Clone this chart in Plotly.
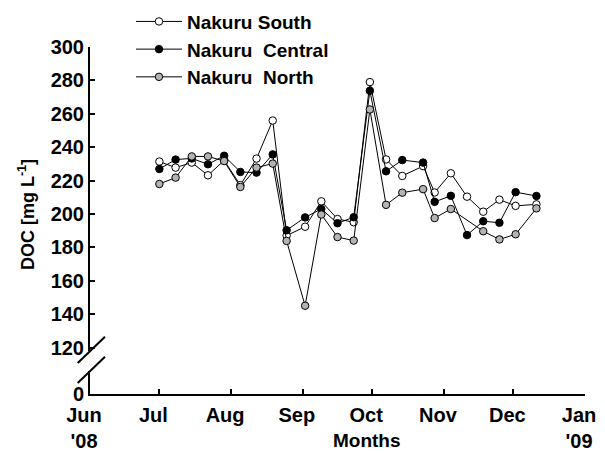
import plotly.graph_objects as go

# ---- data ----
dates = ["2008-07-01", "2008-07-08", "2008-07-15", "2008-07-22", "2008-07-29",
         "2008-08-05", "2008-08-12", "2008-08-19", "2008-08-25", "2008-09-02",
         "2008-09-09", "2008-09-16", "2008-09-23", "2008-09-30", "2008-10-07",
         "2008-10-14", "2008-10-23", "2008-10-28", "2008-11-04", "2008-11-11",
         "2008-11-18", "2008-11-25", "2008-12-02", "2008-12-11"]

south = [231.4, 227.8, 230.8, 223.2, 232.1, 217.3, 233.2, 256.0, 187.1, 192.4,
         207.6, 197.0, 195.1, 279.0, 232.7, 222.8, 228.7, 212.9, 224.4, 210.4,
         201.4, 208.6, 204.9, 205.8]
central = [227.0, 232.6, 233.3, 229.8, 234.9, 225.2, 224.8, 235.7, 190.3, 198.0,
           203.0, 194.5, 198.1, 273.8, 225.6, 232.3, 230.8, 207.3, 210.9, 187.4,
           195.7, 194.8, 213.1, 210.8]
north = [218.0, 221.8, 234.5, 234.5, 231.7, 216.2, 227.8, 230.2, 183.9, 145.1,
         199.7, 186.2, 184.1, 262.6, 205.5, 212.8, 214.9, 197.6, 203.0, None,
         189.7, 184.8, 187.9, 203.4]

series_names = ["Nakuru South", "Nakuru\u00a0 Central", "Nakuru\u00a0 North"]
series_fill = ["white", "black", "#b3b3b3"]

month_ticks = ["2008-06-01", "2008-07-01", "2008-08-01", "2008-09-01",
               "2008-10-01", "2008-11-01", "2008-12-01", "2009-01-01"]
month_labels = ["Jun<br>'08", "Jul", "Aug", "Sep", "Oct", "Nov", "Dec", "Jan<br>'09"]

y_upper_ticks = [120, 140, 160, 180, 200, 220, 240, 260, 280, 300]
y_lower_ticks = [0]

FONT = "Arial, Liberation Sans, sans-serif"
FS = 19
TFS = 20

fig = go.Figure()
for name, vals, fill in zip(series_names, [south, central, north], series_fill):
    fig.add_trace(go.Scatter(
        x=dates, y=vals, name=name, mode="lines+markers", connectgaps=True,
        line=dict(color="black", width=1),
        marker=dict(symbol="circle", size=7.5, color=fill,
                    line=dict(color="black", width=1)),
    ))

# empty trace so that the lower (broken) y-axis segment gets its own subplot
fig.add_trace(go.Scatter(x=[], y=[], xaxis="x", yaxis="y2", showlegend=False,
                         hoverinfo="skip"))

axis_common = dict(showline=True, linecolor="black", linewidth=2,
                   ticks="inside", ticklen=5, tickwidth=2, tickcolor="black",
                   showgrid=False, zeroline=False, automargin=False,
                   tickfont=dict(family=FONT, size=TFS, color="black", weight="bold"))

fig.update_layout(
    width=605, height=453,
    margin=dict(l=90, r=20, t=47, b=59, autoexpand=False),
    paper_bgcolor="white", plot_bgcolor="white",
    font=dict(family=FONT, size=FS, color="black", weight="bold"),
    xaxis=dict(type="date", range=["2008-06-01", "2009-01-01"],
               tickvals=month_ticks, ticktext=month_labels,
               anchor="y2", ticklabelshift=-6, ticklabelstandoff=2,
               **axis_common),
    yaxis=dict(domain=[0.1239, 1], range=[118, 300], tickvals=y_upper_ticks,
               anchor="x", **axis_common),
    yaxis2=dict(domain=[0, 0.0663], range=[0, 10], tickvals=y_lower_ticks,
                anchor="x", **axis_common),
    legend=dict(x=0.0828, y=1.128, xanchor="left", yanchor="top",
                bgcolor="rgba(0,0,0,0)",
                font=dict(family=FONT, size=FS, color="black", weight="bold"),
                itemwidth=46, tracegroupgap=0),
    showlegend=True,
)

# axis titles as annotations
fig.add_annotation(text="Months", xref="paper", yref="paper",
                   x=0.5606, y=-0.135, xanchor="center", yanchor="middle",
                   showarrow=False,
                   font=dict(family=FONT, size=FS, color="black", weight="bold"))
fig.add_annotation(text="DOC [mg L<sup>-1</sup>]", xref="paper", yref="paper",
                   x=-0.127, y=0.516, xanchor="center", yanchor="middle",
                   textangle=-90, showarrow=False,
                   font=dict(family=FONT, size=FS - 1, color="black", weight="bold"))

# axis break marks
for y0, y1 in [(0.0893, 0.1651), (0.0317, 0.1075)]:
    fig.add_shape(type="line", xref="paper", yref="paper",
                  x0=-0.0248, y0=y0, x1=0.0303, y1=y1,
                  line=dict(color="black", width=2))

fig.write_html("out.html")
